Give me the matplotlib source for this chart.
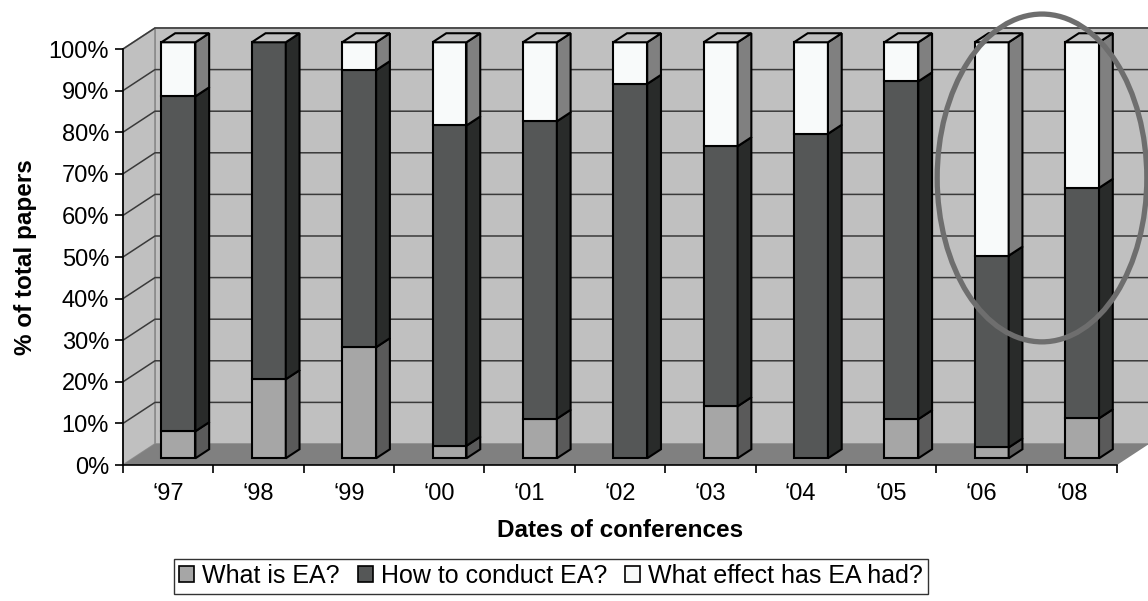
import matplotlib
matplotlib.use('Agg')
import matplotlib.pyplot as plt
from matplotlib.patches import Polygon, Ellipse, Patch
import numpy as np

plt.rcParams['font.family'] = ['Liberation Sans', 'DejaVu Sans']

years = ['\u201897', '\u201898', '\u201899', '\u201800', '\u201801', '\u201802',
         '\u201803', '\u201804', '\u201805', '\u201806', '\u201808']
what_is = [6.5, 19, 26.7, 3, 9.5, 0, 12.5, 0, 9.4, 2.6, 9.6]
how_to = [80.5, 81, 66.6, 77, 71.5, 90, 62.5, 78, 81.2, 46.1, 55.4]
what_effect = [13, 0, 6.7, 20, 19, 10, 25, 22, 9.4, 51.3, 35]
series_names = ['What is EA?', 'How to conduct EA?', 'What effect has EA had?']

# (front, side) colours per series
front_cols = ['#a6a6a6', '#555757', '#f8fafa']
side_cols = ['#5a5a5a', '#292b2a', '#808080']
top_col = '#c0c0c0'

n = len(years)
DX = 0.354   # depth offset in category units
DY = 5.05    # depth offset in percent units
f0 = 0.32    # bar front position along depth
fd = 0.43    # bar depth
bw = 0.376   # bar width

fig = plt.figure(figsize=(11.48, 6.01), dpi=100)
ax = fig.add_axes([123/1148, (601-465)/601, (1117-123)/1148, (465-49)/601])
ax.set_xlim(-0.5, n - 0.5)
ax.set_ylim(0, 100)
ax.set_facecolor('none')

x0, x1 = -0.5, n - 0.5
# walls and floor
ax.add_patch(Polygon([(x0+DX, DY), (x1+DX, DY), (x1+DX, 100+DY), (x0+DX, 100+DY)],
                     closed=True, fc='#c0c0c0', ec='#8c8c8c', lw=1.2, clip_on=False, zorder=0))
ax.add_patch(Polygon([(x0, 0), (x0+DX, DY), (x0+DX, 100+DY), (x0, 100)],
                     closed=True, fc='#c0c0c0', ec='#8c8c8c', lw=1.2, clip_on=False, zorder=0))
ax.add_patch(Polygon([(x0, 0), (x1, 0), (x1+DX, DY), (x0+DX, DY)],
                     closed=True, fc='#808080', ec='none', clip_on=False, zorder=0.5))
for v in range(10, 101, 10):
    ax.plot([x0, x0+DX, x1+DX], [v, v+DY, v+DY], color='#3a3a3a', lw=1.1,
            clip_on=False, zorder=0.4)

# stacked 3d-looking bars
for i in range(n):
    vals = [what_is[i], how_to[i], what_effect[i]]
    left = i - bw/2 + f0*DX
    right = left + bw
    base = f0*DY
    bottom = 0.0
    for k, v in enumerate(vals):
        if v <= 0:
            continue
        y0 = base + bottom
        y1 = base + bottom + v
        ax.add_patch(Polygon([(left, y0), (right, y0), (right, y1), (left, y1)],
                             closed=True, fc=front_cols[k], ec='black', lw=1.5,
                             joinstyle='miter', clip_on=False, zorder=2))
        ax.add_patch(Polygon([(right, y0), (right+fd*DX, y0+fd*DY),
                              (right+fd*DX, y1+fd*DY), (right, y1)],
                             closed=True, fc=side_cols[k], ec='black', lw=1.5,
                             joinstyle='miter', clip_on=False, zorder=2))
        bottom += v
    ytop = base + bottom
    ax.add_patch(Polygon([(left, ytop), (right, ytop), (right+fd*DX, ytop+fd*DY),
                          (left+fd*DX, ytop+fd*DY)],
                         closed=True, fc=top_col, ec='black', lw=1.5,
                         joinstyle='miter', clip_on=False, zorder=2))

# highlight ring around the last two years
ax.add_patch(Ellipse((9.67, 69.0), 2.32, 78.8, fill=False, ec='#6e6e6e', lw=3.8,
                     clip_on=False, zorder=5))

# axes lines and ticks
for s in ['top', 'right']:
    ax.spines[s].set_visible(False)
ax.spines['left'].set_color('black')
ax.spines['bottom'].set_color('black')
ax.spines['left'].set_linewidth(1.2)
ax.spines['bottom'].set_linewidth(1.2)
ax.set_yticks(np.arange(0, 101, 10))
ax.set_yticklabels([f'{v}%' for v in range(0, 101, 10)])
ax.set_xticks(np.arange(n))
ax.set_xticklabels(years)
ax.set_xticks(np.arange(-0.5, n, 1), minor=True)
ax.tick_params(axis='y', direction='out', length=6, width=1.2, labelsize=17, pad=4)
ax.tick_params(axis='x', which='major', length=0, labelsize=17, pad=13)
ax.tick_params(axis='x', which='minor', direction='out', length=6, width=1.2)

ax.set_xlabel('Dates of conferences', fontsize=17.5, fontweight='bold', labelpad=10)
ax.set_ylabel('% of total papers', fontsize=17.5, fontweight='bold', labelpad=8)

handles = [Patch(fc=front_cols[k], ec='black', lw=1.2) for k in range(3)]
leg = fig.legend(handles, series_names, loc='center', bbox_to_anchor=(551/1148, 1 - 576/601),
                 ncol=3, fontsize=18, frameon=True, fancybox=False, edgecolor='black',
                 handlelength=0.6, handleheight=0.6, handletextpad=0.32,
                 columnspacing=0.72, borderpad=0.22, borderaxespad=0)
leg.get_frame().set_linewidth(1.0)

fig.savefig('out.png', dpi=100)
